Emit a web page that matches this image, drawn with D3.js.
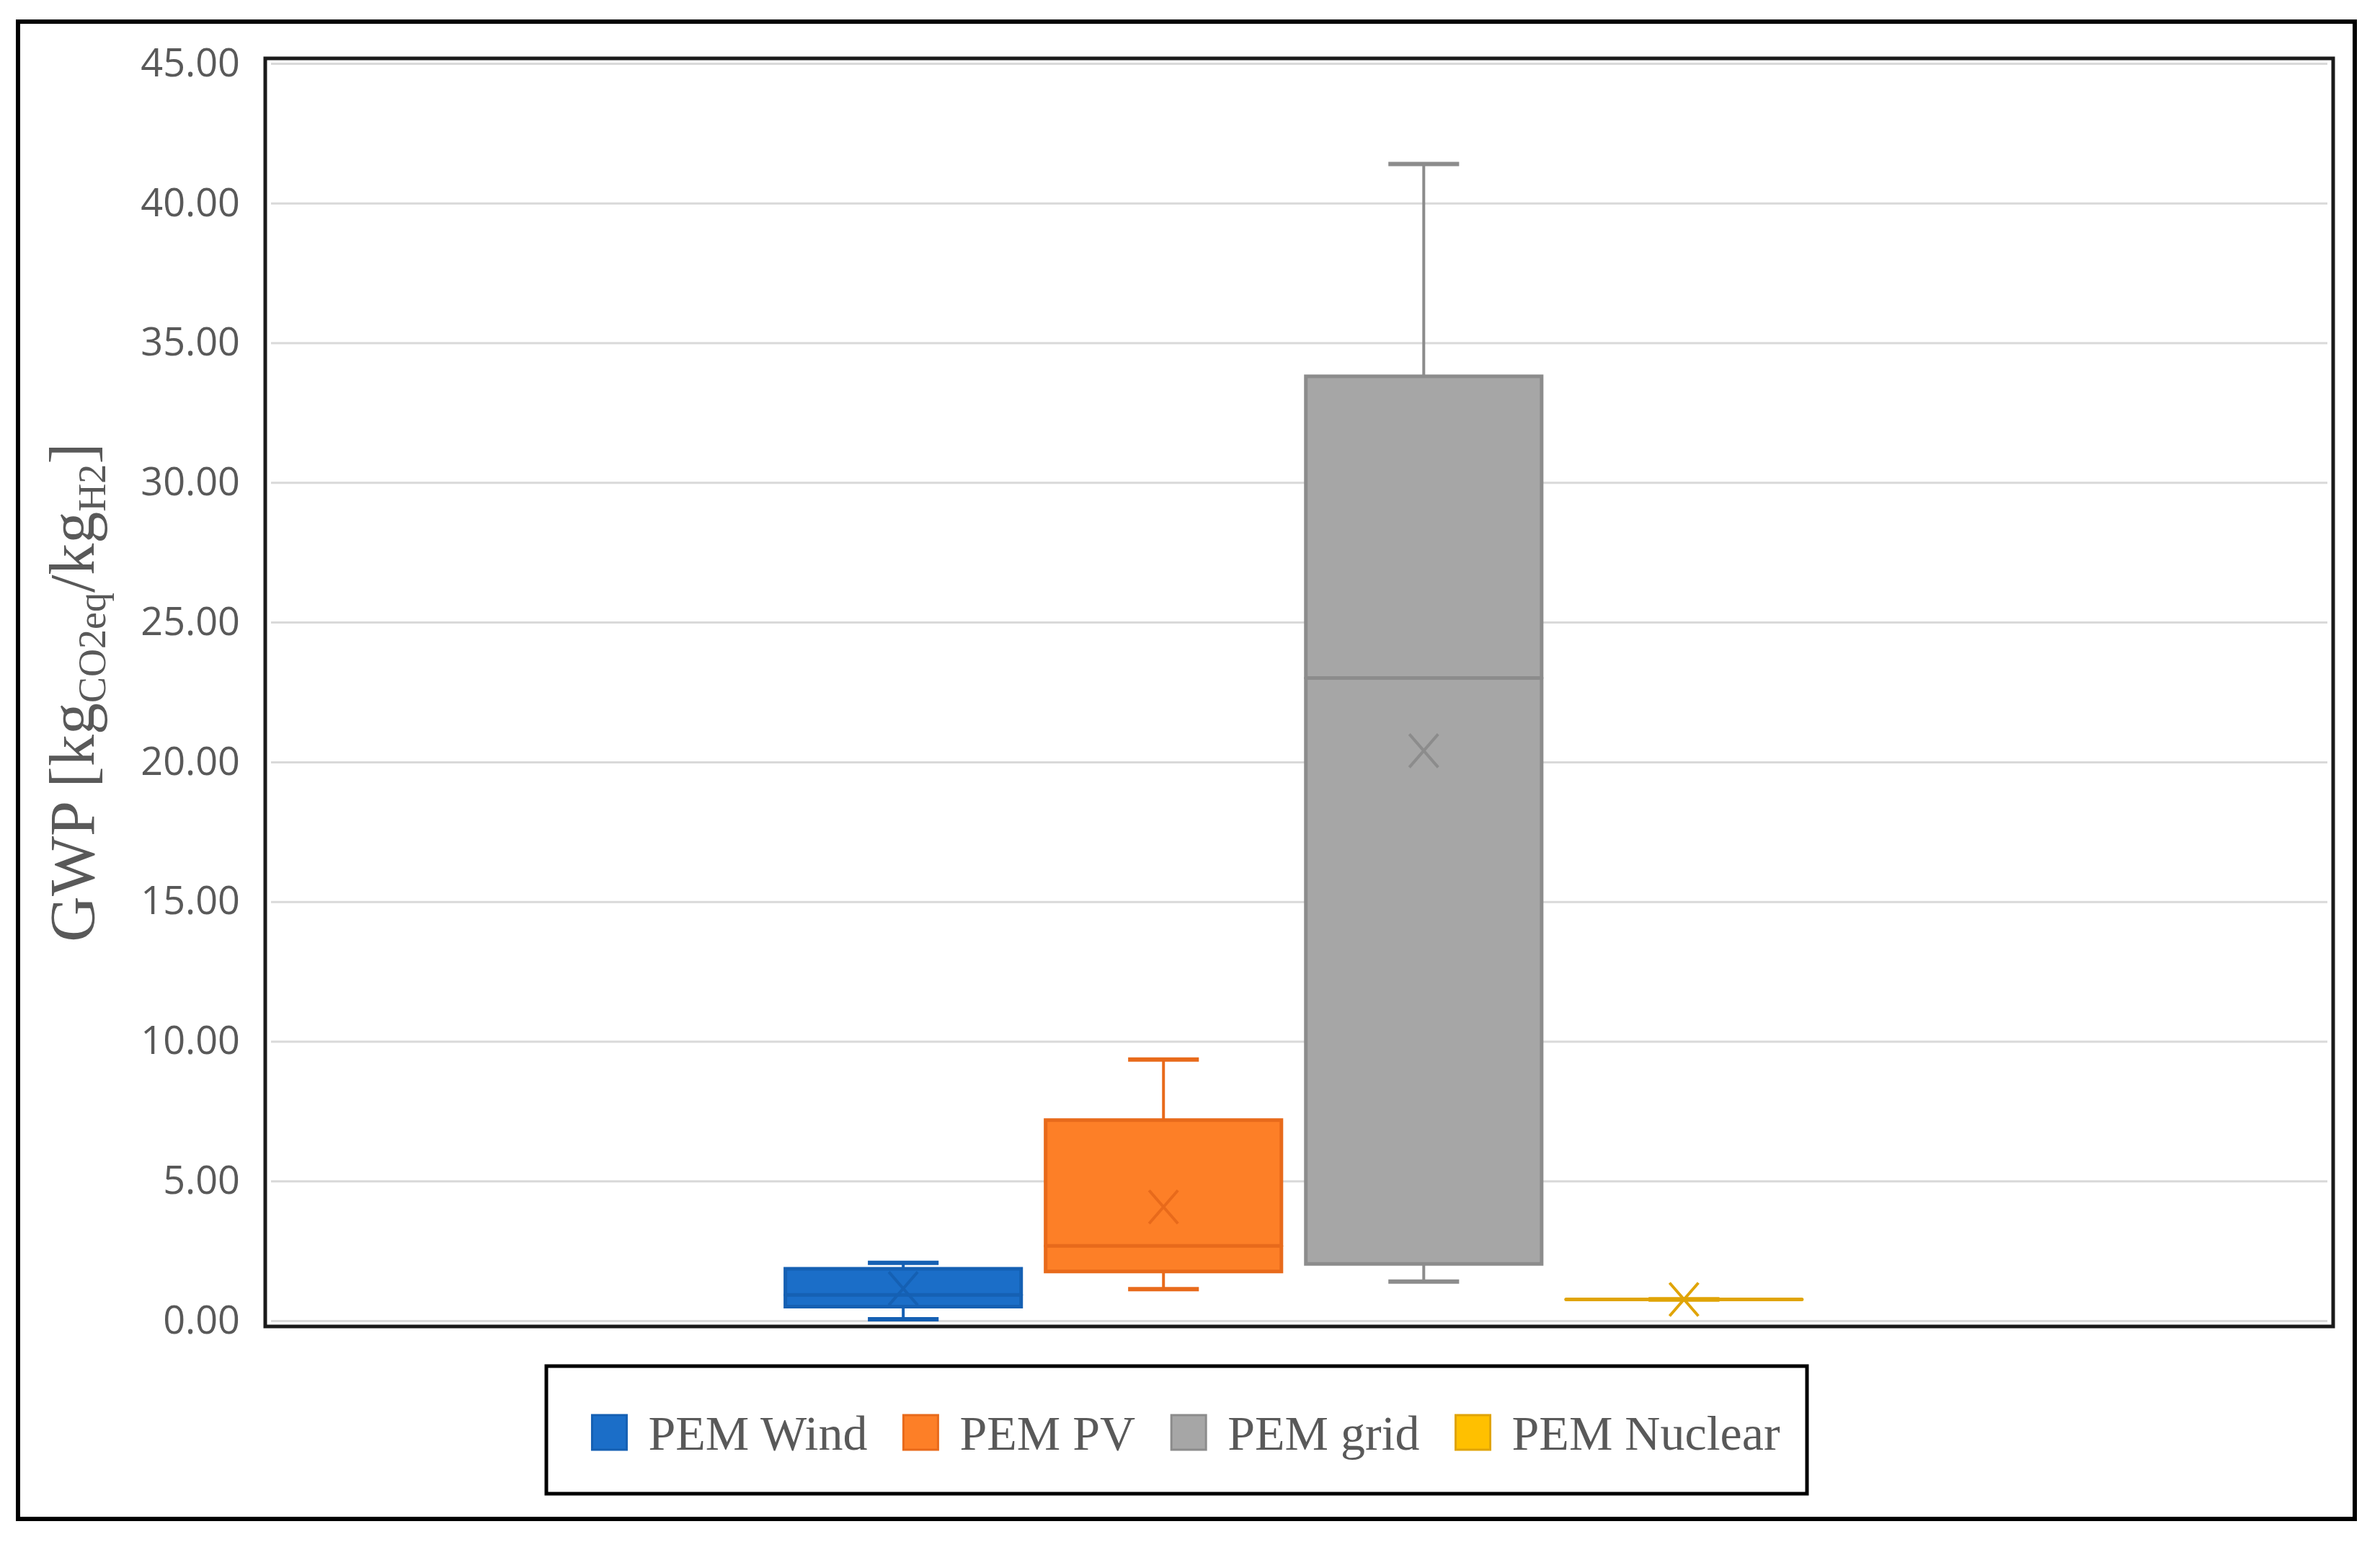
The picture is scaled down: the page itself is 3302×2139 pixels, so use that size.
<!DOCTYPE html>
<html>
<head>
<meta charset="utf-8">
<script src="https://cdn.jsdelivr.net/npm/d3@7"></script>
<style>
  body { margin: 0; background: #fff; }
  .tick text { font-family: "Open Sans", sans-serif; }
</style>
</head>
<body>
<svg class="graph"></svg>
<script>
// series and box statistics
const series = ['PEM Wind', 'PEM PV', 'PEM grid', 'PEM Nuclear'];
const minVals = [0.05, 1.13, 1.40, 0.76];
const q1Vals = [0.50, 1.76, 2.03, 0.76];
const medianVals = [0.92, 2.68, 23.0, 0.76];
const q3Vals = [1.86, 7.18, 33.8, 0.76];
const maxVals = [2.07, 9.35, 41.4, 0.76];
const meanVals = [1.15, 4.07, 20.4, 0.76];
const yTicks = [0, 5, 10, 15, 20, 25, 30, 35, 40, 45];
const fillColors = ['#1b6ec8', '#fd7f27', '#a6a6a6', '#ffc000'];
const strokeColors = ['#1560b3', '#e86a1b', '#8c8c8c', '#e0a406'];

let W = 3302, H = 2139;
let plot = {left: 368, right: 3237, top: 81, bottom: 1840};

let svg = d3.select('.graph').attr('width', W).attr('height', H);

// outer frame
svg.append('rect')
   .attr('x', 25).attr('y', 30)
   .attr('width', 3267 - 25).attr('height', 2107 - 30)
   .attr('fill', 'none').attr('stroke', '#000').attr('stroke-width', 6);

let yscale = d3.scaleLinear().domain([0, 45]).range([1832, 88]);

let pw = plot.right - plot.left;
let xscale = d3.scaleBand().domain(series)
               .range([plot.left + pw * 0.2456, plot.right - pw * 0.251])
               .paddingInner(0.094).paddingOuter(0.047);

// gridlines
svg.append('g')
   .attr('class', 'grid')
   .attr('transform', `translate(${plot.left + 8},0)`)
   .call(d3.axisRight(yscale).tickValues(yTicks).tickSize(plot.right - plot.left - 16).tickFormat(''))
   .call(g => g.select('.domain').remove())
   .call(g => g.selectAll('line').attr('stroke', '#d9d9d9').attr('stroke-width', 3));

// y labels
svg.append('g')
   .attr('class', 'yaxis')
   .attr('transform', `translate(${plot.left - 35},0)`)
   .call(d3.axisLeft(yscale).tickValues(yTicks).tickSize(0).tickPadding(0).tickFormat(d3.format('.2f')))
   .call(g => g.select('.domain').remove())
   .call(g => g.selectAll('text').attr('fill', '#595959').style('font-size', '54px'));

// plot border
svg.append('rect')
   .attr('x', plot.left).attr('y', plot.top)
   .attr('width', plot.right - plot.left).attr('height', plot.bottom - plot.top)
   .attr('fill', 'none').attr('stroke', '#1a1a1a').attr('stroke-width', 5);

// y title
let title = svg.append('text')
   .attr('transform', `translate(130,${(plot.top + plot.bottom) / 2}) rotate(-90)`)
   .attr('text-anchor', 'middle')
   .style('font-family', '"Liberation Serif", serif')
   .style('font-size', '88px')
   .attr('fill', '#595959');
title.append('tspan').text('GWP [kg');
title.append('tspan').text('CO2eq').style('font-size', '54px').attr('dy', 16);
title.append('tspan').text('/kg').attr('dy', -16);
title.append('tspan').text('H2').style('font-size', '54px').attr('dy', 16);
title.append('tspan').text(']').attr('dy', -16);

// boxes
let data = series.map((s, i) => ({
    name: s, min: minVals[i], q1: q1Vals[i], med: medianVals[i],
    q3: q3Vals[i], max: maxVals[i], mean: meanVals[i],
    fill: fillColors[i], stroke: strokeColors[i]
}));

let bw = xscale.bandwidth();
let capW = bw * 0.3;

let boxes = svg.selectAll('.box')
   .data(data)
   .join('g')
   .attr('class', 'box');

// whiskers
boxes.append('line')
   .attr('x1', d => xscale(d.name) + bw / 2).attr('x2', d => xscale(d.name) + bw / 2)
   .attr('y1', d => yscale(d.q3)).attr('y2', d => yscale(d.max))
   .attr('stroke', d => d.stroke).attr('stroke-width', 4);
boxes.append('line')
   .attr('x1', d => xscale(d.name) + bw / 2).attr('x2', d => xscale(d.name) + bw / 2)
   .attr('y1', d => yscale(d.q1)).attr('y2', d => yscale(d.min))
   .attr('stroke', d => d.stroke).attr('stroke-width', 4);
['max', 'min'].forEach(k => {
    boxes.append('line')
       .attr('x1', d => xscale(d.name) + bw / 2 - capW / 2)
       .attr('x2', d => xscale(d.name) + bw / 2 + capW / 2)
       .attr('y1', d => yscale(d[k])).attr('y2', d => yscale(d[k]))
       .attr('stroke', d => d.stroke).attr('stroke-width', 6);
});

// box body (path so a flat box still shows)
boxes.append('path')
   .attr('d', d => {
       let x0 = xscale(d.name), x1 = x0 + bw;
       return `M${x0},${yscale(d.q3)}H${x1}V${yscale(d.q1)}H${x0}Z`;
   })
   .attr('fill', d => d.fill)
   .attr('stroke', d => d.stroke).attr('stroke-width', 5)
   .attr('stroke-linecap', 'round');

// median
boxes.append('line')
   .attr('x1', d => xscale(d.name)).attr('x2', d => xscale(d.name) + bw)
   .attr('y1', d => yscale(d.med)).attr('y2', d => yscale(d.med))
   .attr('stroke', d => d.stroke).attr('stroke-width', 5)
   .attr('stroke-linecap', 'round');

// mean marker
let mkx = 20, mky = 23;
boxes.append('path')
   .attr('d', d => {
       let cx = xscale(d.name) + bw / 2, cy = yscale(d.mean);
       return `M${cx - mkx},${cy - mky}L${cx + mkx},${cy + mky}M${cx + mkx},${cy - mky}L${cx - mkx},${cy + mky}`;
   })
   .attr('fill', 'none')
   .attr('stroke', d => d.stroke).attr('stroke-width', 4);

// legend
let lgd = {left: 758, right: 2507, top: 1895, bottom: 2072};
svg.append('rect')
   .attr('x', lgd.left).attr('y', lgd.top)
   .attr('width', lgd.right - lgd.left).attr('height', lgd.bottom - lgd.top)
   .attr('fill', '#fff').attr('stroke', '#000').attr('stroke-width', 5);

let sw = 48, swGap = 30, itemGap = 50, baseline = 2011;
let lg = svg.append('g');
let cursor = 0;
data.forEach(d => {
    lg.append('rect')
      .attr('x', cursor).attr('y', baseline - sw)
      .attr('width', sw).attr('height', sw)
      .attr('fill', d.fill).attr('stroke', d.stroke).attr('stroke-width', 3);
    let t = lg.append('text')
      .attr('x', cursor + sw + swGap).attr('y', baseline)
      .style('font-family', '"Liberation Serif", serif')
      .style('font-size', '68px')
      .attr('fill', '#595959')
      .text(d.name);
    cursor += sw + swGap + t.node().getComputedTextLength() + itemGap;
});
let lgW = cursor - itemGap;
// content sits a little right of the box centre in the original
lg.attr('transform', `translate(${(lgd.left + lgd.right) / 2 - lgW / 2 + 13},0)`);
</script>
</body>
</html>
